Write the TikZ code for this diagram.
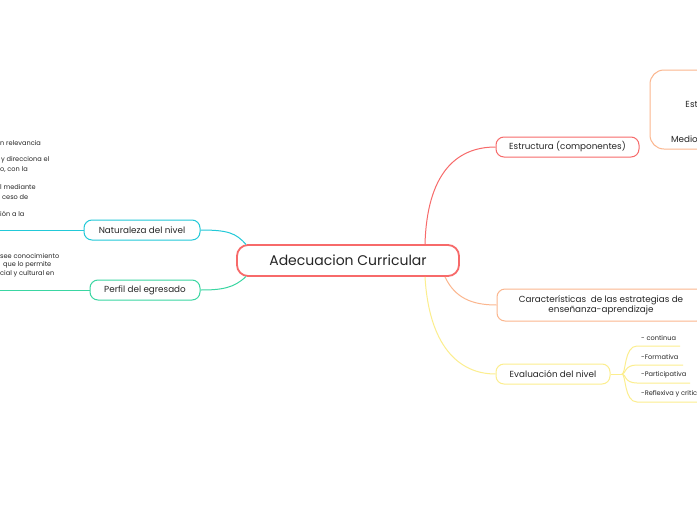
\documentclass[tikz,border=0pt]{standalone}
\usepackage{fontspec}
\setmainfont{Poppins}
\usetikzlibrary{calc}
\definecolor{rojo}{HTML}{F76A6A}
\definecolor{naranja}{HTML}{FBB68E}
\definecolor{amarillo}{HTML}{FCEE8E}
\definecolor{cian}{HTML}{22C9D8}
\definecolor{verde}{HTML}{3AD6A2}
\definecolor{texto}{HTML}{262626}
\tikzset{
  rama/.style={draw=#1, line width=1pt, rounded corners=8pt, fill=white, text=texto,
    font=\fontsize{8.8}{10.5}\selectfont, align=center, inner sep=0pt},
  linea/.style={draw=#1, line width=1pt},
  nota/.style={anchor=west, text=texto, font=\fontsize{6.6}{7.8}\selectfont, inner sep=0pt}
}
\begin{document}
\begin{tikzpicture}[x=1pt,y=-1pt]
    \clip (0,0) rectangle (697,520);
    \fill[white] (0,0) rectangle (697,520);

    \node[rama=rojo, line width=1.8pt, rounded corners=11pt, minimum width=222pt, minimum height=31pt,
      font=\fontsize{14}{16}\selectfont] (central) at (348,260.5) {Adecuacion Curricular};
    \node[rama=rojo, minimum width=143pt, minimum height=20pt] (estr) at (567.5,147) {Estructura (componentes)};
    \node[rama=naranja, minimum width=208pt, minimum height=32pt] (caract) at (601,305)
      {Características \ de las estrategias de\\ enseñanza-aprendizaje};
    \node[rama=amarillo, minimum width=114pt, minimum height=20pt] (eval) at (553,374) {Evaluación del nivel};
    \node[rama=cian, minimum width=116pt, minimum height=20pt] (nat) at (142,230) {Naturaleza del nivel};
    \node[rama=verde, minimum width=110pt, minimum height=20pt] (perf) at (145,290) {Perfil del egresado};
    \node[rama=naranja, rounded corners=14pt, minimum width=110pt, minimum height=79pt] (comp) at (705,109.5) {};
    \node[nota, anchor=east, font=\fontsize{8.8}{10.5}\selectfont] (est) at (698,104) {Est};
    \node[nota, anchor=east, font=\fontsize{8.8}{10.5}\selectfont] (medio) at (698,139) {Medio};

    \draw[linea=rojo] ([xshift=77pt]central.north) .. controls (427,175) and (455,147) .. (estr.west);
    \draw[linea=naranja] ([xshift=97pt]central.south) .. controls (455,298) and (472,305) .. (caract.west);
    \draw[linea=amarillo] ([xshift=77pt]central.south) .. controls (429,345) and (458,374) .. (eval.west);
    \draw[linea=cian] ([xshift=10pt,yshift=-0.5pt]central.north west) .. controls (236,233) and (228,230) .. (nat.east);
    \draw[linea=verde] ([xshift=10pt,yshift=0.5pt]central.south west) .. controls (234,288) and (222,290) .. (perf.east);

    \coordinate (natfin) at (0,230);
    \coordinate (perffin) at (0,290);
    \draw[linea=cian] (nat.west) -- (natfin);
    \draw[linea=verde] (perf.west) -- (perffin);

    \node[nota] (n1) at (0,143) {n relevancia};
    \node[nota] (n2) at (1,160) {y direcciona el};
    \node[nota] (n3) at (0,170) {o, con la};
    \node[nota] (n4) at (0,187) {l mediante};
    \node[nota] (n5) at (2,197) {ceso de};
    \node[nota] (n6) at (0,214) {ión a la};
    \node[nota] (p1) at (0,256) {see conocimiento};
    \node[nota] (p2) at (3,265) {que lo permite};
    \node[nota] (p3) at (0,274) {cial y cultural en};

    \coordinate (nudo) at (622,374);
    \draw[linea=amarillo] (eval.east) -- (nudo);
    \foreach \y/\fin/\txt/\nom in {346/680/- continua/e1, 365/683/-Formativa/e2, 383/690/-Participativa/e3, 402/720/-Reflexiva y critica/e4}{
      \node[nota] (\nom) at (641,\y-8) {\txt};
      \draw[linea=amarillo] (nudo) .. controls (626,374) and (624,\y) .. (637,\y) -- (\fin,\y);
    }
\end{tikzpicture}
\end{document}
